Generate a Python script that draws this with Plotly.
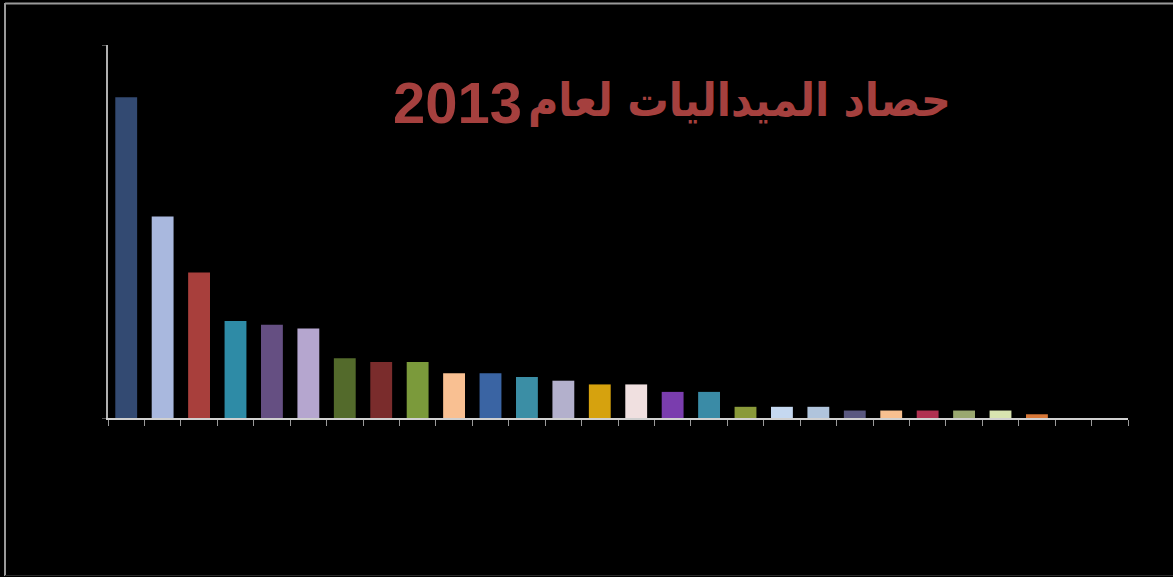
import plotly.graph_objects as go

# Medal tally, ranked; the last two slots are empty
ranks = [str(i) for i in range(1, 29)]
medals = [86, 54, 39, 26, 25, 24, 16, 15, 15, 12, 12, 11, 10, 9, 9, 7, 7,
          3, 3, 3, 2, 2, 2, 2, 2, 1, None, None]
bar_colors = [
    "#334a72", "#a9b8de", "#a83f3c", "#2e8ba6", "#654f82", "#b5a6cf",
    "#536a2b", "#7a2c2c", "#7b9a3b", "#f9c092", "#3a64a3", "#3b8ea5",
    "#b3b0cc", "#d6a20e", "#f0e0e0", "#7a3dae", "#3a8ba6", "#8a9a3a",
    "#c5d8f0", "#b0c4dc", "#5a5880", "#f8c090", "#b03050", "#9aa870",
    "#d8e4b0", "#d87838", "#000000", "#000000",
]
title_words = "حصاد الميداليات لعام"
title_year = "2013"
title_color = "#a5403e"

W, H = 1173, 577
L, R, T, B = 108, 45, 45, 159
PW, PH = W - L - R, H - T - B


def px_x(p):
    return (p - L) / PW


def px_y(p):
    return (H - B - p) / PH


fig = go.Figure(
    go.Bar(
        x=ranks,
        y=medals,
        marker=dict(color=bar_colors, line=dict(width=0)),
        hoverinfo="x+y",
    )
)

fig.update_layout(
    width=W,
    height=H,
    margin=dict(l=L, r=R, t=T, b=B, pad=0),
    paper_bgcolor="#000000",
    plot_bgcolor="#000000",
    bargap=0.4,
    showlegend=False,
    xaxis=dict(
        type="category",
        showgrid=False,
        zeroline=False,
        showline=True,
        linecolor="#d0d0d0",
        linewidth=1.5,
        ticks="outside",
        tickson="boundaries",
        ticklen=6,
        tickwidth=1,
        tickcolor="#9a9a9a",
        showticklabels=False,
    ),
    yaxis=dict(
        range=[0, 100],
        showgrid=False,
        zeroline=False,
        showline=True,
        linecolor="#b0b0b0",
        linewidth=1.5,
        ticks="outside",
        tickvals=[0, 100],
        ticklen=4,
        tickcolor="#555555",
        showticklabels=False,
    ),
    annotations=[
        # year, set to the left of the Arabic words
        dict(
            text="<b>" + title_year + "</b>",
            xref="paper", yref="paper",
            x=px_x(457), y=px_y(102),
            xanchor="center", yanchor="middle",
            showarrow=False,
            font=dict(family="Liberation Sans, Arial", size=58,
                      color=title_color),
        ),
        dict(
            text="<b>" + title_words + "</b>",
            xref="paper", yref="paper",
            x=px_x(739), y=px_y(100),
            xanchor="center", yanchor="middle",
            showarrow=False,
            font=dict(family="DejaVu Sans Condensed, DejaVu Sans", size=46,
                      color=title_color),
        ),
    ],
    shapes=[
        # outer frame of the slide
        dict(type="line", xref="paper", yref="paper",
             x0=px_x(5), x1=px_x(W), y0=px_y(3.5), y1=px_y(3.5),
             line=dict(color="#9a9a9a", width=2)),
        dict(type="line", xref="paper", yref="paper",
             x0=px_x(5), x1=px_x(5), y0=px_y(3), y1=px_y(576),
             line=dict(color="#9a9a9a", width=2)),
        dict(type="line", xref="paper", yref="paper",
             x0=px_x(5), x1=px_x(W), y0=px_y(575.5), y1=px_y(575.5),
             line=dict(color="#2a2a2a", width=1)),
    ],
)

fig.write_html("out.html")
